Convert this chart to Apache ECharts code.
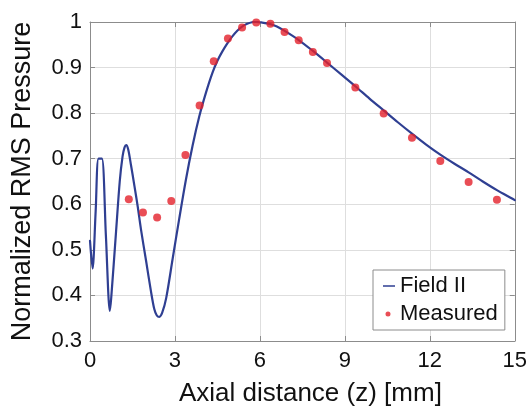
<!DOCTYPE html>
<html>
<head>
<meta charset="utf-8">
<script src="https://cdn.jsdelivr.net/npm/echarts@6/dist/echarts.min.js"></script>
<style>
html,body{margin:0;padding:0;background:#fff;}
#chart{width:530px;height:412px;}
</style>
</head>
<body>
<div id="chart"></div>
<script>
// Field II simulated curve: axial distance (mm) and normalized RMS pressure
const fieldZ = [0.00,0.09,0.20,0.30,0.42,0.56,0.70,0.75,0.92,1.05,1.15,1.22,1.28,1.35,1.45,1.57,1.69,1.80,1.98,2.15,2.27,2.36,2.45,2.55,2.69,2.92,3.15,3.39,3.62,3.86,4.09,4.32,4.50,4.67,4.85,5.02,5.20,5.37,5.55,5.72,5.86,6.05,6.34,6.60,6.86,7.36,7.86,8.37,8.87,9.37,9.87,10.37,10.87,11.37,11.87,12.37,12.87,13.37,13.87,14.37,14.92,15.00];
const fieldV = [0.520,0.459,0.585,0.700,0.700,0.533,0.366,0.395,0.540,0.650,0.705,0.725,0.730,0.720,0.685,0.640,0.593,0.545,0.476,0.410,0.370,0.356,0.353,0.362,0.394,0.481,0.568,0.655,0.728,0.793,0.844,0.888,0.915,0.935,0.953,0.968,0.981,0.990,0.996,0.9995,1.000,0.999,0.996,0.990,0.981,0.961,0.937,0.911,0.885,0.859,0.832,0.806,0.780,0.755,0.731,0.709,0.689,0.670,0.650,0.631,0.612,0.609];
// Measured points
const measZ = [1.37,1.87,2.37,2.87,3.37,3.87,4.37,4.87,5.37,5.87,6.37,6.87,7.37,7.87,8.37,9.37,10.37,11.37,12.37,13.37,14.37];
const measV = [0.611,0.582,0.571,0.607,0.708,0.817,0.914,0.964,0.988,0.999,0.996,0.978,0.960,0.934,0.910,0.856,0.799,0.746,0.695,0.649,0.610];
// Axis ticks
const xTicks = [0,3,6,9,12,15];
const yTicks = [0.3,0.4,0.5,0.6,0.7,0.8,0.9,1];
const seriesNames = ['Field II','Measured'];

const FONT = "'Liberation Sans', Arial, Helvetica, sans-serif";
const BOX = '#8c8c8c';
const chart = echarts.init(document.getElementById('chart'), null, {renderer:'canvas'});

const xBase = {
  type:'value', min:xTicks[0], max:xTicks[xTicks.length-1], interval:xTicks[1]-xTicks[0],
  axisLine:{show:true, onZero:false, lineStyle:{color:BOX, width:1}},
  axisTick:{show:true, inside:true, length:5, lineStyle:{color:BOX}}
};
const yBase = {
  type:'value', min:yTicks[0], max:yTicks[yTicks.length-1], interval:0.1,
  axisLine:{show:true, onZero:false, lineStyle:{color:BOX, width:1}},
  axisTick:{show:true, inside:true, length:5, lineStyle:{color:BOX}}
};

chart.setOption({
  backgroundColor:'#fff',
  animation:false,
  textStyle:{fontFamily:FONT},
  grid:{left:90, right:13, top:22, bottom:70, containLabel:false},
  xAxis:[
    Object.assign({}, xBase, {
      position:'bottom',
      name:'Axial distance (z) [mm]', nameLocation:'middle', nameGap:40,
      nameTextStyle:{fontSize:26, color:'#111', fontFamily:FONT, padding:[0,0,0,16]},
      axisLabel:{show:true, fontSize:22, color:'#111', margin:9, fontFamily:FONT},
      splitLine:{show:true, lineStyle:{color:'#dedede', width:1}}
    }),
    Object.assign({}, xBase, {
      position:'top', axisLabel:{show:false}, splitLine:{show:false}
    })
  ],
  yAxis:[
    Object.assign({}, yBase, {
      position:'left',
      name:'Normalized RMS Pressure', nameLocation:'middle', nameGap:54,
      nameTextStyle:{fontSize:27, color:'#111', fontFamily:FONT},
      axisLabel:{show:true, fontSize:22, color:'#111', margin:8, fontFamily:FONT,
        formatter:function(v){ return Math.abs(v-1)<1e-9 ? '1' : v.toFixed(1); }},
      splitLine:{show:true, lineStyle:{color:'#dedede', width:1}}
    }),
    Object.assign({}, yBase, {
      position:'right', axisLabel:{show:false}, splitLine:{show:false}
    })
  ],
  legend:{
    orient:'vertical', left:373, top:270,
    backgroundColor:'#fff', borderColor:'#8c8c8c', borderWidth:1,
    padding:[3,7,3,10], itemGap:2, itemWidth:12, itemHeight:12,
    textStyle:{fontSize:22, color:'#111', fontFamily:FONT, lineHeight:26},
    data:[
      {name:seriesNames[0], icon:'path://M0,0 L0.01,0 L0,0.01 Z M0,5.3 L12,5.3 L12,6.7 L0,6.7 Z M12,12 L11.99,12 L12,11.99 Z', itemStyle:{color:'#2f3f92'}},
      {name:seriesNames[1], icon:'path://M0,0 L0.01,0 L0,0.01 Z M2.5,6 A2.5,2.5 0 1 1 7.5,6 A2.5,2.5 0 1 1 2.5,6 Z M12,12 L11.99,12 L12,11.99 Z', itemStyle:{color:'#e3202a'}}
    ]
  },
  series:[
    {
      name:seriesNames[0], type:'line',
      data:fieldZ.map((z,i)=>[z, fieldV[i]]),
      showSymbol:false, symbol:'none', smooth:0.3,
      lineStyle:{color:'#2f3f92', width:2.2, join:'round', cap:'round'},
      itemStyle:{color:'#2f3f92'},
      z:2
    },
    {
      name:seriesNames[1], type:'scatter',
      data:measZ.map((z,i)=>[z, measV[i]]),
      symbol:'circle', symbolSize:8,
      itemStyle:{color:'#e3202a'},
      z:3
    }
  ]
});
</script>
</body>
</html>
